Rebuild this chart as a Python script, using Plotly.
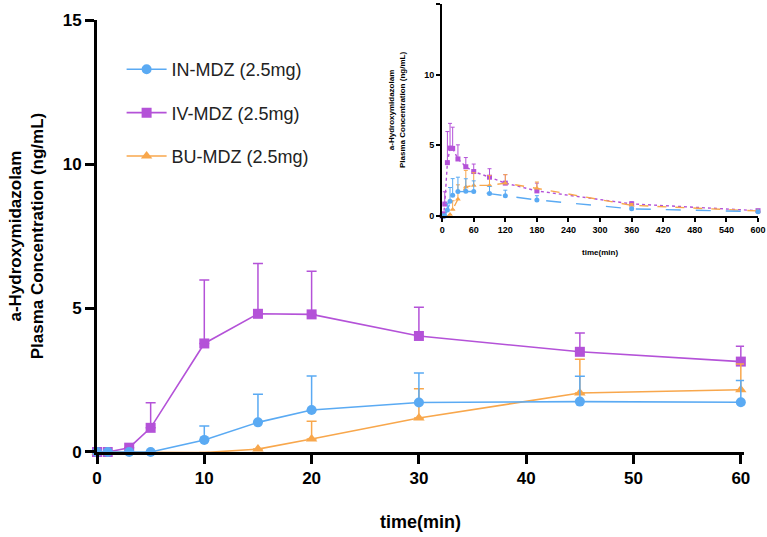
import plotly.graph_objects as go

# sampling times (min)
time_main = [0, 1, 3, 5, 10, 15, 20, 30, 45, 60]
time_all = time_main + [90, 120, 180, 360, 600]

# mean and SD (ng/mL)
in_mean = [0, 0, 0, 0, 0.42, 1.03, 1.46, 1.72, 1.75, 1.73, 1.58, 1.42, 1.13, 0.50, 0.30]
in_sd = [0, 0, 0, 0, 0.48, 0.98, 1.18, 1.02, 0.88, 0.75, 0.50, 0.40, 0.30, 0.10, 0.05]
iv_mean = [0, 0, 0.15, 0.84, 3.77, 4.80, 4.78, 4.03, 3.48, 3.14, 2.74, 2.32, 1.77, 0.85, 0.37]
iv_sd = [0, 0, 0, 0.87, 2.20, 1.75, 1.50, 1.00, 0.65, 0.53, 0.60, 0.60, 0.55, 0.15, 0.05]
bu_mean = [0, 0, 0, 0, -0.02, 0.10, 0.45, 1.18, 2.05, 2.16, 2.16, 2.32, 1.95, 0.75, 0.35]
bu_sd = [0, 0, 0, 0, 0, 0, 0.62, 1.02, 1.17, 0.90, 0.70, 0.60, 0.45, 0.12, 0.05]

main_ticks_x = [0, 10, 20, 30, 40, 50, 60]
inset_ticks_x = [0, 60, 120, 180, 240, 300, 360, 420, 480, 540, 600]
ticks_y = [0, 5, 10, 15]

BLUE = "#5aaaf3"
PURPLE = "#b452d8"
ORANGE = "#f8a74c"
FONT = "Liberation Sans"

series = [
    # name, mean, sd, color, symbol, inset dash, rank
    ("IV-MDZ (2.5mg)", iv_mean, iv_sd, PURPLE, "square", "dot", 2),
    ("BU-MDZ (2.5mg)", bu_mean, bu_sd, ORANGE, "triangle-up", "dash", 3),
    ("IN-MDZ (2.5mg)", in_mean, in_sd, BLUE, "circle", "longdash", 1),
]

fig = go.Figure()
n = len(time_main)

for name, mean, sd, color, symbol, dash, rank in series:
    fig.add_trace(
        go.Scatter(
            x=time_main,
            y=mean[:n],
            mode="lines+markers",
            name=name,
            legendgroup=name,
            legendrank=rank,
            line=dict(color=color, width=1.6),
            marker=dict(symbol=symbol, color=color, size=10),
            error_y=dict(
                type="data",
                array=sd[:n],
                arrayminus=[0] * n,
                symmetric=False,
                color=color,
                thickness=1.5,
                width=5,
            ),
            cliponaxis=False,
            xaxis="x",
            yaxis="y",
        )
    )

for name, mean, sd, color, symbol, dash, rank in series:
    fig.add_trace(
        go.Scatter(
            x=time_all,
            y=mean,
            mode="lines+markers",
            name=name,
            showlegend=False,
            line=dict(color=color, width=1.4, dash=dash),
            marker=dict(symbol=symbol, color=color, size=5),
            error_y=dict(
                type="data",
                array=sd,
                arrayminus=[0] * len(sd),
                symmetric=False,
                color=color,
                thickness=1,
                width=2,
            ),
            cliponaxis=False,
            xaxis="x2",
            yaxis="y2",
        )
    )

axis_common = dict(
    showgrid=False,
    zeroline=False,
    showline=True,
    linecolor="black",
    ticks="outside",
    tickcolor="black",
    automargin=False,
)

fig.update_layout(
    width=767,
    height=537,
    margin=dict(l=97, r=5, t=4, b=85),
    paper_bgcolor="white",
    plot_bgcolor="white",
    font=dict(family=FONT, color="black"),
    xaxis=dict(
        axis_common,
        domain=[0, 0.973],
        range=[0, 60.3],
        tickvals=main_ticks_x,
        linewidth=3,
        tickwidth=3,
        ticklen=9,
        tickfont=dict(size=17, family=FONT, weight="bold"),
        title=dict(text="<b>time(min)</b>", font=dict(size=18), standoff=28),
    ),
    yaxis=dict(
        axis_common,
        domain=[0, 0.964],
        range=[0, 15],
        tickvals=ticks_y,
        linewidth=3,
        tickwidth=3,
        ticklen=9,
        tickfont=dict(size=17, family=FONT, weight="bold"),
        title=dict(
            text="<b>a-Hydroxymidazolam<br>Plasma Concentration (ng/mL)</b>",
            font=dict(size=17),
            standoff=15,
        ),
    ),
    xaxis2=dict(
        axis_common,
        anchor="y2",
        domain=[0.519, 0.994],
        range=[0, 600],
        tickvals=inset_ticks_x,
        linewidth=2,
        tickwidth=1.5,
        ticklen=4,
        tickfont=dict(size=9, family=FONT, weight="bold"),
        title=dict(text="<b>time(min)</b>", font=dict(size=8), standoff=16),
    ),
    yaxis2=dict(
        axis_common,
        anchor="x2",
        domain=[0.527, 1.0],
        range=[0, 15],
        tickvals=ticks_y,
        linewidth=2,
        tickwidth=1.5,
        ticklen=4,
        tickfont=dict(size=9, family=FONT, weight="bold"),
        title=dict(
            text="<b>a-Hydroxymidazolam<br>Plasma Concentration (ng/mL)</b>",
            font=dict(size=8),
            standoff=18,
        ),
    ),
    legend=dict(
        x=0.037,
        y=0.895,
        xanchor="left",
        yanchor="top",
        bgcolor="rgba(0,0,0,0)",
        font=dict(size=18, family=FONT, color="#222222"),
        tracegroupgap=17,
        itemwidth=40,
    ),
)

# drop the default 8px body margin so the 767x537 figure fills the window
fig.write_html(
    "out.html",
    config={"displayModeBar": False},
    post_script="document.body.style.margin='0';document.body.style.overflow='hidden';",
)
